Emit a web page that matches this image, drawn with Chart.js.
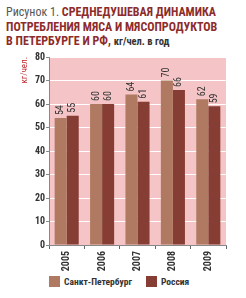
<!DOCTYPE html>
<html lang="ru">
<head>
  <meta charset="UTF-8">
  <title>Среднедушевая динамика</title>
  <script src="https://cdn.jsdelivr.net/npm/chart.js"></script>
  <style>
    body {
      margin: 0;
      width: 246px;
      height: 298px;
      background: #fff;
      font-family: "Roboto Condensed", "DejaVu Sans Condensed", sans-serif;
      position: relative;
      overflow: hidden;
    }

    .title {
      position: absolute;
      left: 6px;
      top: 5px;
      width: 240px;
      font-size: 12px;
      line-height: 14.5px;
      color: #8c2b2a;
      font-weight: bold;
      white-space: nowrap;
    }

    .title .fig {
      color: #555;
      font-weight: normal;
    }

    .title .unit {
      color: #333;
      font-size: 10.5px;
    }

    .chart-box {
      position: absolute;
      left: 0;
      top: 50px;
      width: 246px;
      height: 222px;
    }

    .legend {
      position: absolute;
      top: 276px;
      left: 49px;
      font-size: 9.5px;
      font-weight: bold;
      color: #333;
      display: flex;
    }

    .legend span {
      display: inline-flex;
      align-items: center;
    }

    .legend i {
      display: inline-block;
      width: 11px;
      height: 11px;
      margin-right: 4px;
    }
  </style>
</head>
<body>
  <div class="title">
    <span class="fig">Рисунок 1.</span> СРЕДНЕДУШЕВАЯ ДИНАМИКА<br>
    ПОТРЕБЛЕНИЯ МЯСА И МЯСОПРОДУКТОВ<br>
    В ПЕТЕРБУРГЕ И РФ, <span class="unit">кг/чел. в год</span>
  </div>

  <div class="chart-box">
    <canvas id="meatChart"></canvas>
  </div>

  <div class="legend" id="legend"></div>

  <script>
    const years = ['2005', '2006', '2007', '2008', '2009'];
    const seriesNames = ['Санкт-Петербург', 'Россия'];
    const spbValues = [54, 60, 64, 70, 62];
    const rusValues = [55, 60, 61, 66, 59];
    const yTicks = [0, 10, 20, 30, 40, 50, 60, 70, 80];
    const colors = ['#b07a62', '#863d33'];

    const narrow = '"Roboto Condensed", "DejaVu Sans Condensed", sans-serif';

    // розовый фон области графика
    const plotBg = {
      id: 'plotBg',
      beforeDraw(chart) {
        const a = chart.chartArea;
        const ctx = chart.ctx;
        ctx.save();
        ctx.fillStyle = '#f5c4c6';
        ctx.fillRect(a.left, a.top, a.right - a.left, a.bottom - a.top);
        ctx.restore();
      }
    };

    // подписи значений над столбцами, повернутые вертикально
    const barValues = {
      id: 'barValues',
      afterDatasetsDraw(chart) {
        const ctx = chart.ctx;
        ctx.save();
        ctx.font = '10px ' + narrow;
        ctx.fillStyle = '#333';
        ctx.textAlign = 'left';
        ctx.textBaseline = 'middle';
        chart.data.datasets.forEach((ds, i) => {
          chart.getDatasetMeta(i).data.forEach((bar, j) => {
            ctx.save();
            ctx.translate(bar.x, bar.y - 3);
            ctx.rotate(-Math.PI / 2);
            ctx.fillText(ds.data[j], 0, 0);
            ctx.restore();
          });
        });
        ctx.restore();
      }
    };

    new Chart(document.getElementById('meatChart'), {
      type: 'bar',
      data: {
        labels: years,
        datasets: [
          { label: seriesNames[0], data: spbValues, backgroundColor: colors[0] },
          { label: seriesNames[1], data: rusValues, backgroundColor: colors[1] }
        ]
      },
      options: {
        responsive: true,
        maintainAspectRatio: false,
        animation: false,
        categoryPercentage: 0.68,
        barPercentage: 1,
        layout: { padding: { top: 5, right: 20, left: 0, bottom: 0 } },
        plugins: {
          legend: { display: false },
          tooltip: { enabled: false }
        },
        scales: {
          x: {
            offset: true,
            grid: {
              offset: true,
              drawOnChartArea: false,
              tickLength: 4,
              tickColor: '#666'
            },
            border: { color: '#888' },
            ticks: {
              minRotation: 90,
              maxRotation: 90,
              color: '#333',
              padding: 2,
              font: { family: narrow, size: 10, weight: 'bold' }
            },
            afterFit(scale) { scale.height = 27; }
          },
          y: {
            min: 0,
            max: 80,
            afterBuildTicks(scale) {
              scale.ticks = yTicks.map(v => ({ value: v }));
            },
            grid: {
              color: '#fff',
              lineWidth: 1,
              tickColor: '#888',
              tickLength: 3
            },
            border: { color: '#888' },
            ticks: {
              color: '#333',
              padding: 1,
              font: { family: narrow, size: 10, weight: 'bold' }
            },
            title: {
              display: true,
              text: 'кг/чел.',
              align: 'end',
              color: '#c0262c',
              padding: { top: 19, bottom: 0 },
              font: { family: narrow, size: 9 }
            },
            afterFit(scale) { scale.width = 49; }
          }
        }
      },
      plugins: [plotBg, barValues]
    });

    const legendEl = document.getElementById('legend');
    seriesNames.forEach((name, i) => {
      const item = document.createElement('span');
      item.style.marginRight = i === 0 ? '14px' : '0';
      item.innerHTML = '<i style="background:' + colors[i] + '"></i>' + name;
      legendEl.appendChild(item);
    });
  </script>
</body>
</html>
